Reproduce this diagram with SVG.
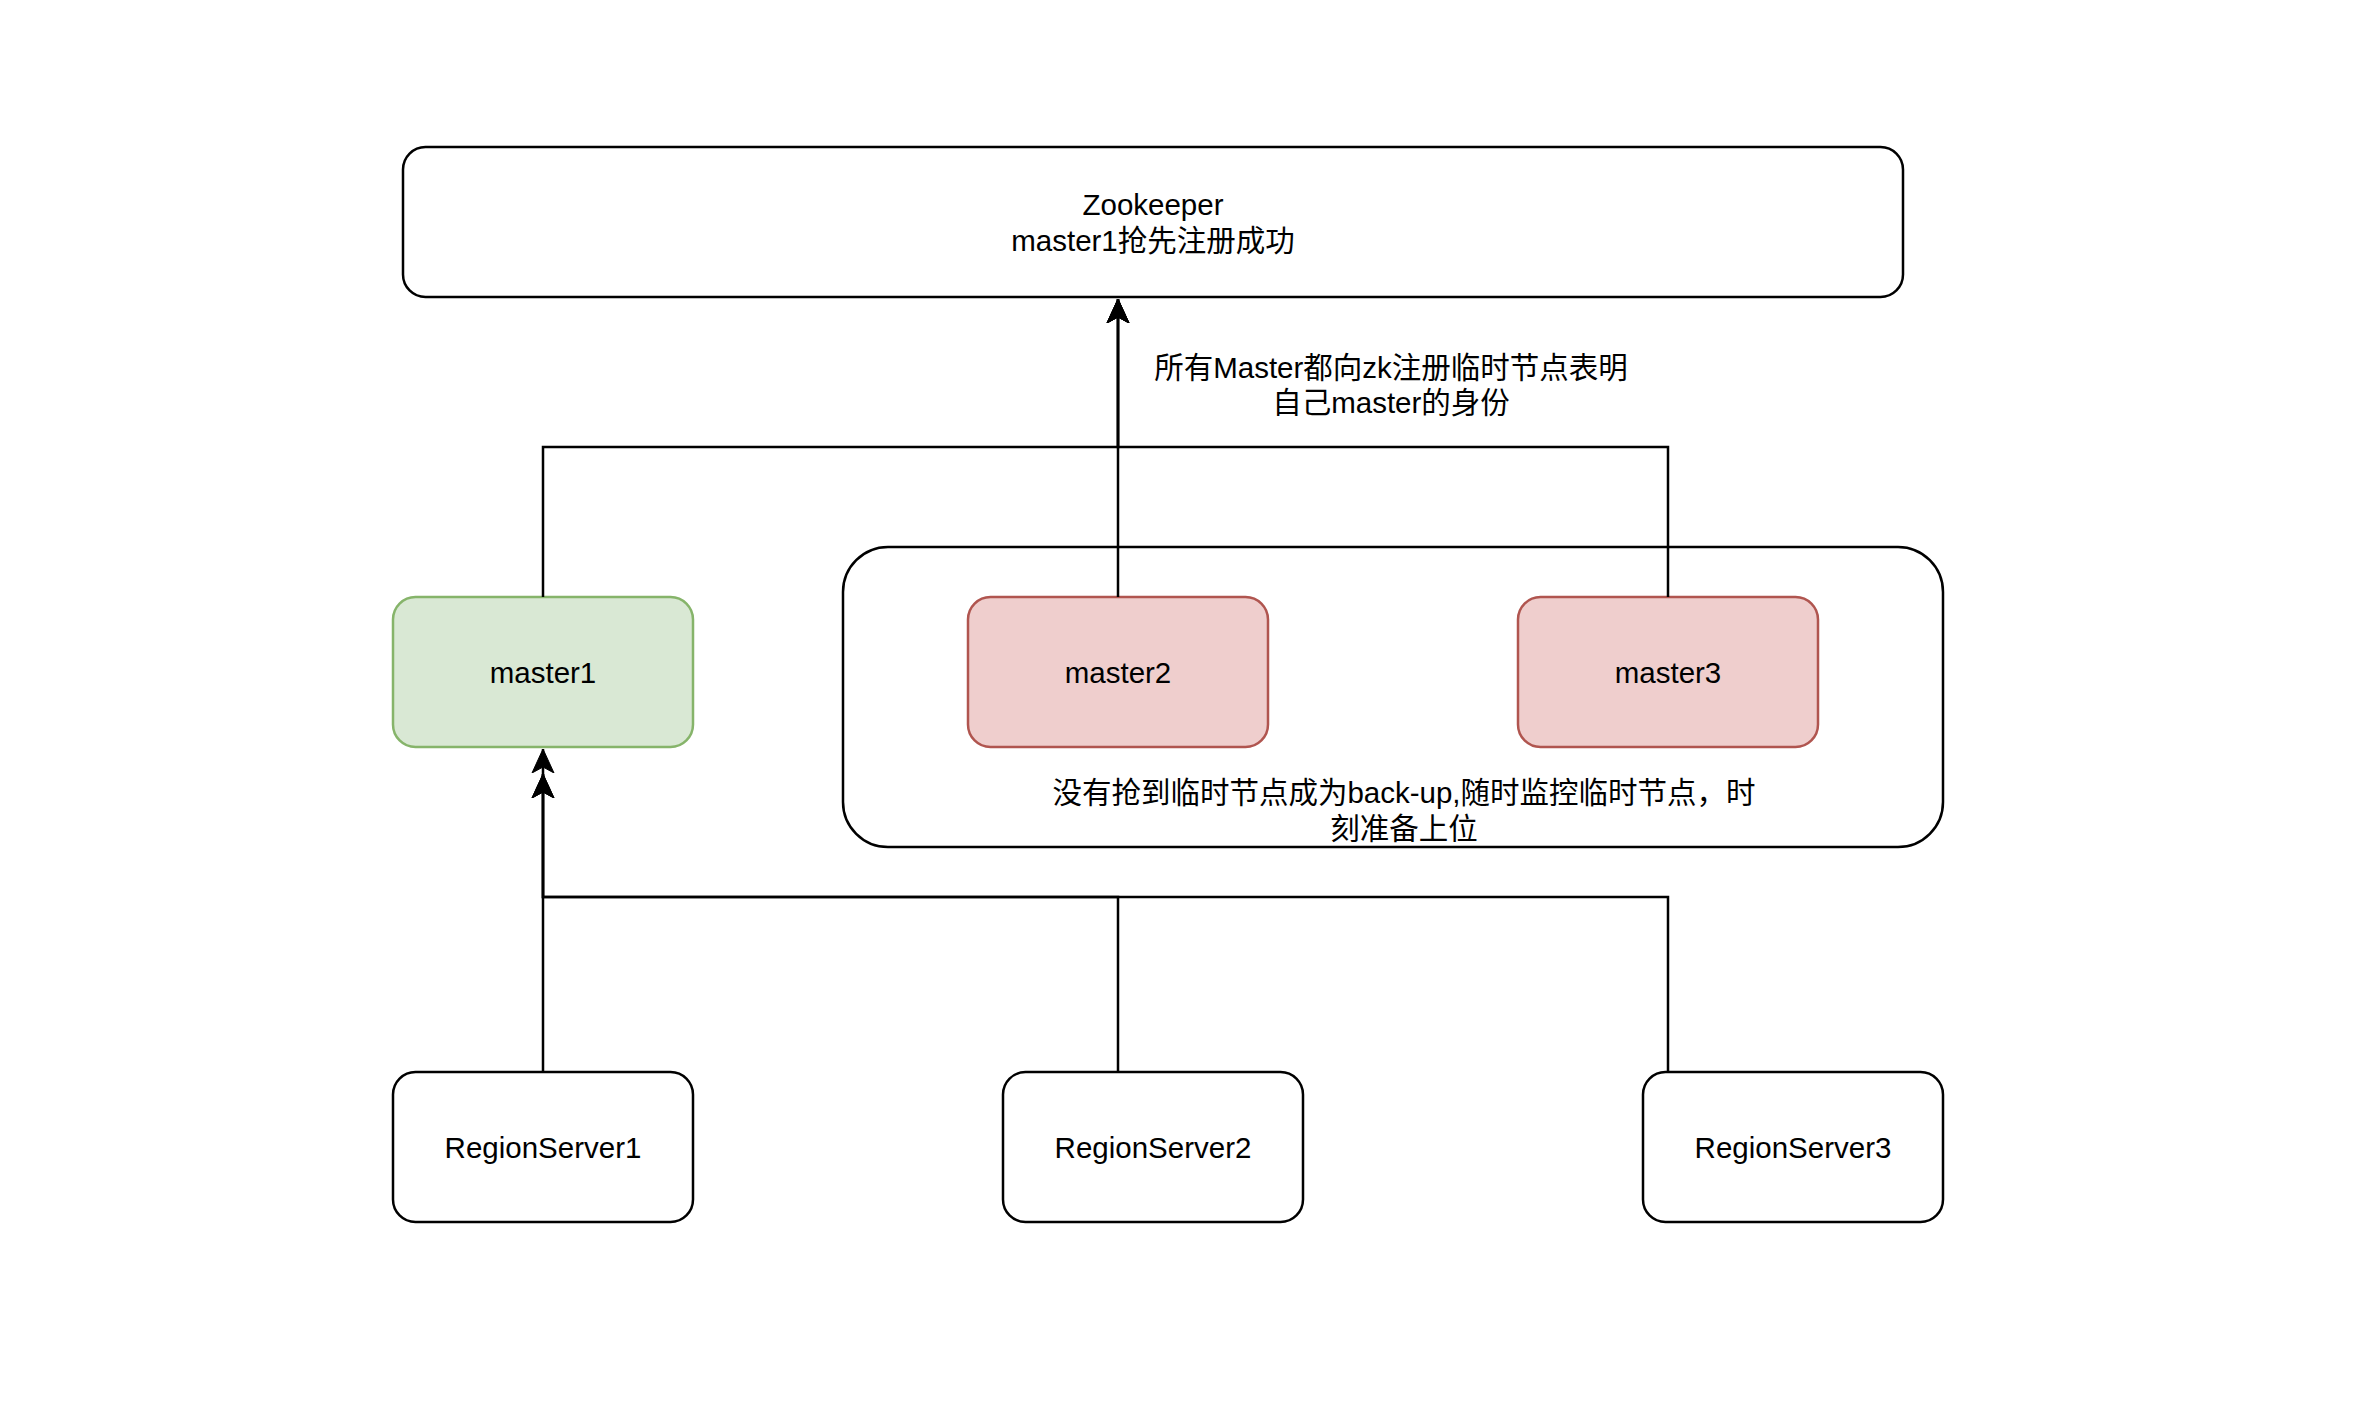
<svg xmlns="http://www.w3.org/2000/svg" width="2353" height="1414" viewBox="0 0 2353 1414">
<style>
text{font-family:"Liberation Sans","Noto Sans CJK SC",sans-serif;font-size:29.5px;fill:#000;text-anchor:middle}
.box{fill:#fff;stroke:#000;stroke-width:2.5}
.green{fill:#d9e8d4;stroke:#86b46a;stroke-width:2.5}
.red{fill:#efcecd;stroke:#b0554f;stroke-width:2.5}
.edge{fill:none;stroke:#000;stroke-width:2.5}
</style>
<defs>
<marker id="arr" viewBox="0 0 24 24" refX="24" refY="12" markerWidth="24" markerHeight="24" markerUnits="userSpaceOnUse" orient="auto">
<path d="M24,12 L0,1 L6,12 L0,23 Z" fill="#000" stroke="#000" stroke-width="1"/>
</marker>
</defs>
<rect width="2353" height="1414" fill="#fff"/>
<g id="zookeeper">
<rect class="box" x="403" y="147" width="1500" height="150" rx="22.5"/>
<text x="1153" y="214.5">Zookeeper</text>
<text x="1153" y="250.5">master1抢先注册成功</text>
</g>
<g id="backup-group">
<rect class="box" x="843" y="547" width="1100" height="300" rx="45"/>
<text x="1404" y="802.5">没有抢到临时节点成为back-up,随时监控临时节点，时</text>
<text x="1404" y="838.5">刻准备上位</text>
</g>
<g id="master1">
<rect class="green" x="393" y="597" width="300" height="150" rx="22.5"/>
<text x="543" y="682.5">master1</text>
</g>
<g id="master2">
<rect class="red" x="968" y="597" width="300" height="150" rx="22.5"/>
<text x="1118" y="682.5">master2</text>
</g>
<g id="master3">
<rect class="red" x="1518" y="597" width="300" height="150" rx="22.5"/>
<text x="1668" y="682.5">master3</text>
</g>
<g id="rs1">
<rect class="box" x="393" y="1072" width="300" height="150" rx="22.5"/>
<text x="543" y="1157.5">RegionServer1</text>
</g>
<g id="rs2">
<rect class="box" x="1003" y="1072" width="300" height="150" rx="22.5"/>
<text x="1153" y="1157.5">RegionServer2</text>
</g>
<g id="rs3">
<rect class="box" x="1643" y="1072" width="300" height="150" rx="22.5"/>
<text x="1793" y="1157.5">RegionServer3</text>
</g>
<g id="connectors">
<path class="edge" d="M543,597 V447 H1118 V299" marker-end="url(#arr)"/>
<path class="edge" d="M1118,597 V299" marker-end="url(#arr)"/>
<path class="edge" d="M1668,597 V447 H1118 V299" marker-end="url(#arr)"/>
<path class="edge" d="M543,1072 V749" marker-end="url(#arr)"/>
<path class="edge" d="M1118,1072 V897 H543 V774" marker-end="url(#arr)"/>
<path class="edge" d="M1668,1072 V897 H543 V774" marker-end="url(#arr)"/>
<text x="1391" y="377.5">所有Master都向zk注册临时节点表明</text>
<text x="1391" y="412.5">自己master的身份</text>
</g>
</svg>
